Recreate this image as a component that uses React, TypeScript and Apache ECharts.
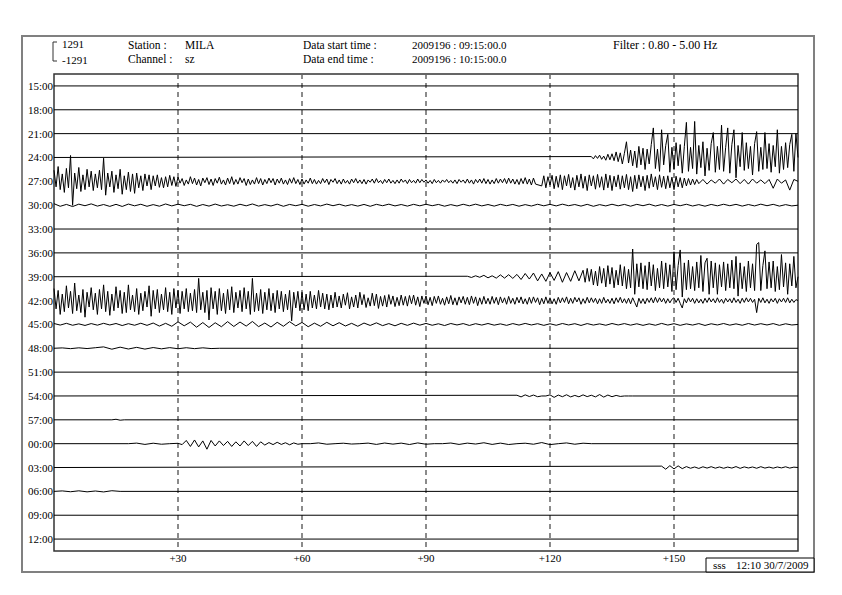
import React, { useEffect, useRef } from 'react';
import * as echarts from 'echarts';

const ROW_LABELS = ['15:00','18:00','21:00','24:00','27:00','30:00','33:00','36:00','39:00','42:00','45:00','48:00','51:00','54:00','57:00','00:00','03:00','06:00','09:00','12:00'];
const FULL_SCALE = 1291;
const ROW_SECONDS = 180;
const TICK_STEP = 30;

// Each segment: start second, step in seconds, amplitudes in counts
const row24Seg = { start: 130, step: 0.5, amp: [
  100, -150, 200, -100, 250, -200, 150, -300, 350, -250,
  400, -350, 600, -450, 500, -700, 450, 1700, -600, 800,
  -900, 700, -1100, 1200, -800, 1000, -1300, 900, -700, 1400,
  3200, -1200, 900, -1500, 3000, -800, 1300, 2500, -1600, 1100,
  -1300, 1600, -900, 1400, -1700, 1200, 3800, -1500, 1100, -1200,
  3900, -1800, 1300, -1100, 1700, -2000, 1000, -1400, 1500, 2700,
  -1600, 1200, -1300, 3500, -1500, 1100, 3200, -1700, 1400, 3000,
  -2200, 1300, -1000, 2700, -1400, 1600, -1200, 1200, -1900, 1500,
  2800, -1500, 1100, -1300, 2700, -1200, 1500, -1600, 1300, -1000,
  3000, -1700, 1200, -1300, 1600, -1100, 1400, 2500, -1500, 2600] };

const row27SegA = { start: 0, step: 0.5, amp: [
  1200, -600, 1600, -900, 800, -1200, 1400, -700,
  2800, -2600, 900, -800, 1500, -1100, 700, -900, 1300, -600,
  1100, -1000, 800, -700, 1200, -900, 2500, -1500, 900, -600,
  1100, -1200, 700, -800, 1300, -1400, 600, -900, 1000, -1100,
  800, -1300, 900, -700, 600, -1000, 800, -500, 700, -900,
  600, -500, 700, -650, 400, -700, 500, -600, 650, -450,
  500, -550] };
const row27SegB = { start: 30, step: 0.5, amp: [
  450, -200, 300, -450, 150, -300, 500, -250, 350, -400,
  200, -500, 350, -150, 400, -350, 250, -450, 300, -200,
  450, -300, 150, -400, 350, -250, 500, -350, 200, -300,
  400, -150, 300, -450, 250, -350, 150, -300, 400, -250,
  300, -400, 200, -250, 350, -150, 300, -400, 250, -200,
  350, -300, 150, -350, 300, -200, 400, -250, 200, -350,
  250, -300, 150, -200, 350, -250, 200, -300, 100, -250,
  300, -150, 250, -350, 200, -100, 300, -250, 150, -300,
  250, -200, 100, -300, 250, -150, 300, -200, 150, -250,
  200, -300, 150, -100, 250, -200, 300, -150, 100, -250,
  200, -150, 250, -200, 100, -250, 150, -200, 250, -100,
  150, -250, 200, -150, 100, -200, 250, -150, 200, -100,
  150, -200, 100, -250, 200, -150, 100, -200, 150, -100,
  200, -150, 100, -200, 150, -250, 200, -100, 150, -200,
  250, -200, 150, -300, 200, -150, 250, -200, 300, -250,
  200, -300, 150, -250, 300, -200, 250, -150, 300, -250,
  350, -200, 250, -300, 200, -350, 300, -250, 400, -300,
  250, -400, 350, -300] };
const row27SegC = { start: 118, step: 0.5, amp: [
  -500, 600, -700, 500, -400, 650, -800, 550, -650, 700,
  -900, 600, -500, 750, -700, 400, -950, 650, -600, 800,
  -750, 550, -1000, 700, -500, 600, -850, 750, -650, 500,
  -950, 800, -700, 650, -1000, 550, -600, 700, -850, 600,
  -700, 750, -900, 500, -1100, 650, -800, 700, -600, 550,
  -1000, 650, -750, 800, -600, 500, -900, 700, -650, 550,
  -800, 600, -700, 450, -900, 550, -600, 400,
  -700, 350, -500, 300, -400, 250, -350, 200] };
const row27SegD = { start: 156, step: 1, amp: [
  -250, 200, -300, 150, -200, 250, -300, 200, -150, 250,
  -250, 200, -300, 250, -200, 150, -250, 200, -750, 250,
  -200, 150, -950, 200] };

const row30Seg = { start: 0, step: 1.5, amp: [
  160, -120, 80, -150, 110, -60, 140, -100, 70, -130,
  90, -140, 120, -70, 100, -120, 60, -110, 130, -80,
  110, -60, 90, -130, 70, -100, 120, -90, 50, -110,
  100, -70, 130, -100, 60, -90, 110, -120, 80, -60,
  90, -110, 70, -80, 120, -60, 100, -90, 60, -100,
  80, -120, 90, -60, 110, -80, 70, -100, 90, -70,
  100, -60, 80, -110, 60, -90, 100, -70, 110, -80,
  70, -100, 90, -60, 80, -110, 60, -90, 100, -70,
  90, -80, 110, -60, 70, -100, 90, -120, 60, -80,
  100, -70, 80, -110, 90, -60, 110, -90, 70, -100,
  80, -60, 100, -90, 60, -110, 80, -70, 100, -60,
  90, -100, 70, -80, 110, -60, 90, -100, 60, -80] };

const row39SegA = { start: 100, step: 1, amp: [
  50, -80, 100, -60, 150, -120, 100, -150, 200, -150,
  220, -180, 250, -300, 350, -250, 400, -450, 300, -500,
  450, -400, 550, -600, 450, -500, 650, -450] };
const row39SegB = { start: 128, step: 0.5, amp: [
  700, -600, 900, -500, 800, -900, 600, -1000, 1100, -700,
  900, -1100, 1200, -800, 1000, -1200, 700, -900, 1300, -1000,
  1100, -1300, 800, -1200, 3000, -1900, 1400, -1100, 1500, -1300,
  1200, -1400, 1600, -1000, 1300, -1500, 900, -1200, 1700, -1300,
  1500, -1100, 1300, -1600, 2700, -1400, 1200, 2900, -2200, 1500,
  -1400, 1800, -1300, 1100, -1500, 1600, -1200, 2300, -1600, 1500,
  2000, -1900, 1700, -1200, 1500, -1900, 1300, -1100, 1600, -1500,
  1400, -1200, 1800, -1300, 2200, -2100, 1500, -1300, 1100, -1600,
  1700, -1200, 1400, -1500, 3500, 3700, -1500, 1200, 2800, -1300,
  1600, -1200, 1700, -1600, 1100, -1400, 2400, -1100, 1500, -1900,
  1400, -1000, 2200, -1200] };

const row42SegA = { start: 0, step: 0.5, amp: [
  1300, -900, 1100, -1500, 700, -1200, 1600, -800, 1000, -1400,
  1900, -1100, 600, -1300, 1200, -1800, 900, -700, 1400, -1000,
  800, -1500, 1200, -900, 1700, -1200, 1000, -1600, 700, -1100,
  1500, -800, 1100, -1400, 900, -1300, 1700, -1000, 600, -1200,
  1300, -1500, 800, -1100, 1000, -700, 1600, -1700, 1100, -900,
  1200, -1300, 700, -1000, 1400, -1200, 900, -1500, 1300, -800,
  1100, -1400, 1000, -900, 1300, -1200, 800, -1100, 1200, -1300,
  2400, -1000, 900, -1300, 1100, -2100, 1400, -900, 1000, -1500,
  1300, -1100, 800, -1400, 1200, -1000, 1500, -1300, 900, -800,
  1100, -1200, 1400, -900, 1000, -1500, 2400, -1200, 800, -1100,
  1200, -1400, 900, -1000, 1300, -1100, 800, -1300, 1100, -900,
  1000, -1200, 700, -1000, 1100, -2200, 900, -800, 1000, -1100,
  900, -1000, 700, -1100, 1000, -800, 600, -900, 1100, -700,
  800, -900, 700, -1000, 600, -800, 900, -700, 500, -800] };
const row42SegB = { start: 70, step: 0.5, amp: [
  700, -500, 850, -900, 400, -700, 600, -800, 900, -450,
  650, -750, 300, -600, 800, -550, 700, -850, 450, -600,
  550, -700, 650, -400, 500, -650, 350, -550, 600, -500,
  450, -600, 550, -350, 600, -500, 400, -650, 500, -300,
  500, -450, 350, -550, 450, -300, 500, -400, 250, -500,
  400, -350, 550, -450, 300, -500, 400, -250, 450, -400,
  350, -450, 500, -300, 400, -550, 300, -400, 450, -350,
  250, -400, 450, -300, 350, -450, 400, -250, 300, -400,
  450, -300, 250, -400, 350, -250, 400, -350, 200, -400,
  350, -300, 400, -200, 300, -450, 250, -350, 400, -300,
  300, -350, 200, -400, 350, -250, 300, -200, 400, -350,
  250, -300, 350, -150, 300, -400, 200, -300, 350, -250,
  300, -200, 250, -350, 200, -300, 350, -250, 150, -300,
  250, -350, 300, -200, 350, -250, 200, -300, 250, -350,
  300, -200, -700, 250, -300, 200, -350, 250, -200, 300,
  -250, 350, -200, 300, -150, 250, -300, 200, -250, 150,
  300, -200, 250, -300, -800, 200, -250, 300, -150, 250,
  -300, 200, -250, 150, -300, 250, -200, 300, -150, 200,
  -250, 300, -200, 150, -300, 250, -150, 200, -250, 300,
  -200, 150, -300, 250, -200, 300, -150, 250, -200, 150,
  -1300, 250, -200, 300, -250, 150, -300, 200, -150, 250,
  -300, 200, -150, 250, -200, 300, -250, 150, -200, 100] };

const row45Seg = { start: 0, step: 1.5, amp: [
  100, -70, 120, -90, 60, -110, 90, -80, 120, -60,
  100, -120, 80, -90, 130, -100, 150, -180, 120, -200,
  280, -150, 250, -300, 200, -330, 180, -250, 300, -220,
  260, -180, 320, -240, 150, -280, 230, -200, 300, -160,
  220, -250, 140, -200, 230, -150, 190, -170, 120, -200,
  150, -110, 170, -130, 90, -150, 120, -100, 140, -80,
  110, -90, 70, -120, 100, -60, 90, -110, 80, -70,
  100, -80, 60, -100, 90, -70, 110, -60, 80, -100,
  70, -90, 100, -60, 80, -110, 90, -70, 60, -90,
  100, -60, 90, -80, 70, -100, 60, -90, 110, -70,
  80, -100, 60, -70, 90, -110, 70, -60, 100, -80,
  60, -90, 100, -70, 80, -60, 90, -100, 70, -60] };

const row48Seg = { start: 0, step: 2, amp: [
  0, 40, -40, 50, -30, 60, 150, -100, 120, -80, 100, -90, 80, -60, 70, -50, 60, -40, 50, -30, 0] };

const row54Seg = { start: 112, step: 1, amp: [
  80, -100, 120, -60, 100, -80, 0, 0, 120, -150, 100, -80, 130, -100, 60, -90,
  120, -70, 80, -100, 150, -120, 100, -80, 60, -50, 0, 0, 0] };

const row57Seg = { start: 14, step: 1, amp: [0, 60, -40, 0] };

const row00SegA = { start: 18, step: 2, amp: [0, 60, -80, 50, -60, 0, 40] };
const row00SegB = { start: 31, step: 1, amp: [
  -100, 350, -300, 400, -350, 300, -600, 350, -250, 300,
  -200, 250, -300, 200, -250, 300, -200, 250, -300, 200,
  -150, 120, -100, 150, -80, 100, -120, 80, -60, 0] };
const row00SegC = { start: 62, step: 2, amp: [
  0, 80, -60, 0, 50, -40, 0, 60, -80, 70, -50, 60, -90, 80, -60, 0, 0, 70,
  -80, 60, -40, 100, -80, 60, -90, 0, 50, -60, 120, -100, 0, 80, -60, 50, 0] };

const row03Seg = { start: 147, step: 1, amp: [
  150, -180, 200, -150, 180, -120, 100, -80, 60, -100, 80, -60, 90, -70, 60, -80,
  50, -60, 100, -90, 70, -50, 60, -80, 90, -60, 50, -70, 60, -40, 80, -60, 40] };

const row06Seg = { start: 0, step: 2, amp: [0, 50, -40, 60, -50, 40, -60, 70, 0] };

const ROW_SEGMENTS: Record<number, { start: number; step: number; amp: number[] }[]> = {
  3: [row24Seg], 4: [row27SegA, row27SegB, row27SegC, row27SegD], 5: [row30Seg],
  8: [row39SegA, row39SegB], 9: [row42SegA, row42SegB],
  10: [row45Seg], 11: [row48Seg], 13: [row54Seg], 14: [row57Seg],
  15: [row00SegA, row00SegB, row00SegC], 16: [row03Seg], 17: [row06Seg],
};

const FONT = '"Liberation Serif", "Times New Roman", serif';

function rowPoints(i: number): [number, number][] {
  const segs = ROW_SEGMENTS[i] || [];
  const pts: [number, number][] = [];
  segs.forEach((s) => s.amp.forEach((a, k) => pts.push([s.start + k * s.step, a])));
  if (!pts.length || pts[0][0] > 0) pts.unshift([0, 0]);
  if (pts[pts.length - 1][0] < ROW_SECONDS) pts.push([ROW_SECONDS, 0]);
  return pts;
}

export default function App() {
  const ref = useRef<HTMLDivElement>(null);
  useEffect(() => {
    if (!ref.current) return;
    const chart = echarts.init(ref.current, null, { renderer: 'svg' });
    const n = ROW_LABELS.length;
    const rowSpan = 2 * FULL_SCALE;
    const series: any[] = ROW_LABELS.map((_, i) => {
      const base = (n - i - 0.5) * rowSpan;
      return {
        type: 'line',
        xAxisIndex: 0,
        yAxisIndex: 1,
        showSymbol: false,
        symbol: 'none',
        silent: true,
        clip: false,
        lineStyle: { color: '#000', width: 1 },
        data: rowPoints(i).map(([t, a]) => [t, base + a]),
      };
    });
    const txt = (x: number, y: number, s: string, size = 11) => ({
      type: 'text', x, y,
      style: { text: s, fontFamily: FONT, fontSize: size, fill: '#000', verticalAlign: 'middle', align: 'left' },
    });
    chart.setOption({
      animation: false,
      backgroundColor: '#fff',
      grid: { left: 54, top: 74, width: 744, height: 477, show: true, borderColor: '#333', borderWidth: 1.5 },
      xAxis: {
        type: 'value', min: 0, max: ROW_SECONDS, interval: TICK_STEP,
        axisLine: { show: false }, axisTick: { show: false },
        axisLabel: {
          margin: 1, fontFamily: FONT, fontSize: 11, color: '#000',
          formatter: (v: number) => (v === 0 || v === ROW_SECONDS ? '' : '+' + v),
        },
        splitLine: { show: true, showMinLine: false, showMaxLine: false, lineStyle: { color: '#666', width: 1.5, type: [5, 4] } },
      },
      yAxis: [
        {
          type: 'category', data: ROW_LABELS, inverse: true,
          axisLine: { show: false }, axisTick: { show: false }, splitLine: { show: false },
          axisLabel: { margin: 1, fontFamily: FONT, fontSize: 11, color: '#000' },
        },
        { type: 'value', min: 0, max: n * rowSpan, show: false, splitLine: { show: false } },
      ],
      graphic: [
        { type: 'rect', shape: { x: 22, y: 36, width: 792, height: 536 }, style: { fill: 'none', stroke: '#808080', lineWidth: 2 } },
        { type: 'polyline', shape: { points: [[57, 42], [53, 42], [53, 61], [57, 61]] }, style: { fill: 'none', stroke: '#333', lineWidth: 1 } },
        txt(62, 44, String(FULL_SCALE)),
        txt(62, 60, String(-FULL_SCALE)),
        txt(128, 45, 'Station :', 11.5), txt(185, 45, 'MILA', 11.5),
        txt(128, 59, 'Channel :', 11.5), txt(185, 59, 'sz', 11.5),
        txt(303, 45, 'Data start time :', 11.5), txt(412, 45, '2009196 : 09:15:00.0'),
        txt(303, 59, 'Data end time :', 11.5), txt(412, 59, '2009196 : 10:15:00.0'),
        txt(613, 45, 'Filter : 0.80 - 5.00 Hz', 12),
        { type: 'rect', shape: { x: 706, y: 558, width: 108, height: 14 }, style: { fill: '#fff', stroke: '#000', lineWidth: 1 } },
        txt(713, 565, 'sss'),
        txt(736, 565, '12:10 30/7/2009'),
      ],
      series,
    });
    return () => chart.dispose();
  }, []);
  return <div ref={ref} style={{ position: 'fixed', left: 0, top: 0, width: 842, height: 595 }} />;
}
